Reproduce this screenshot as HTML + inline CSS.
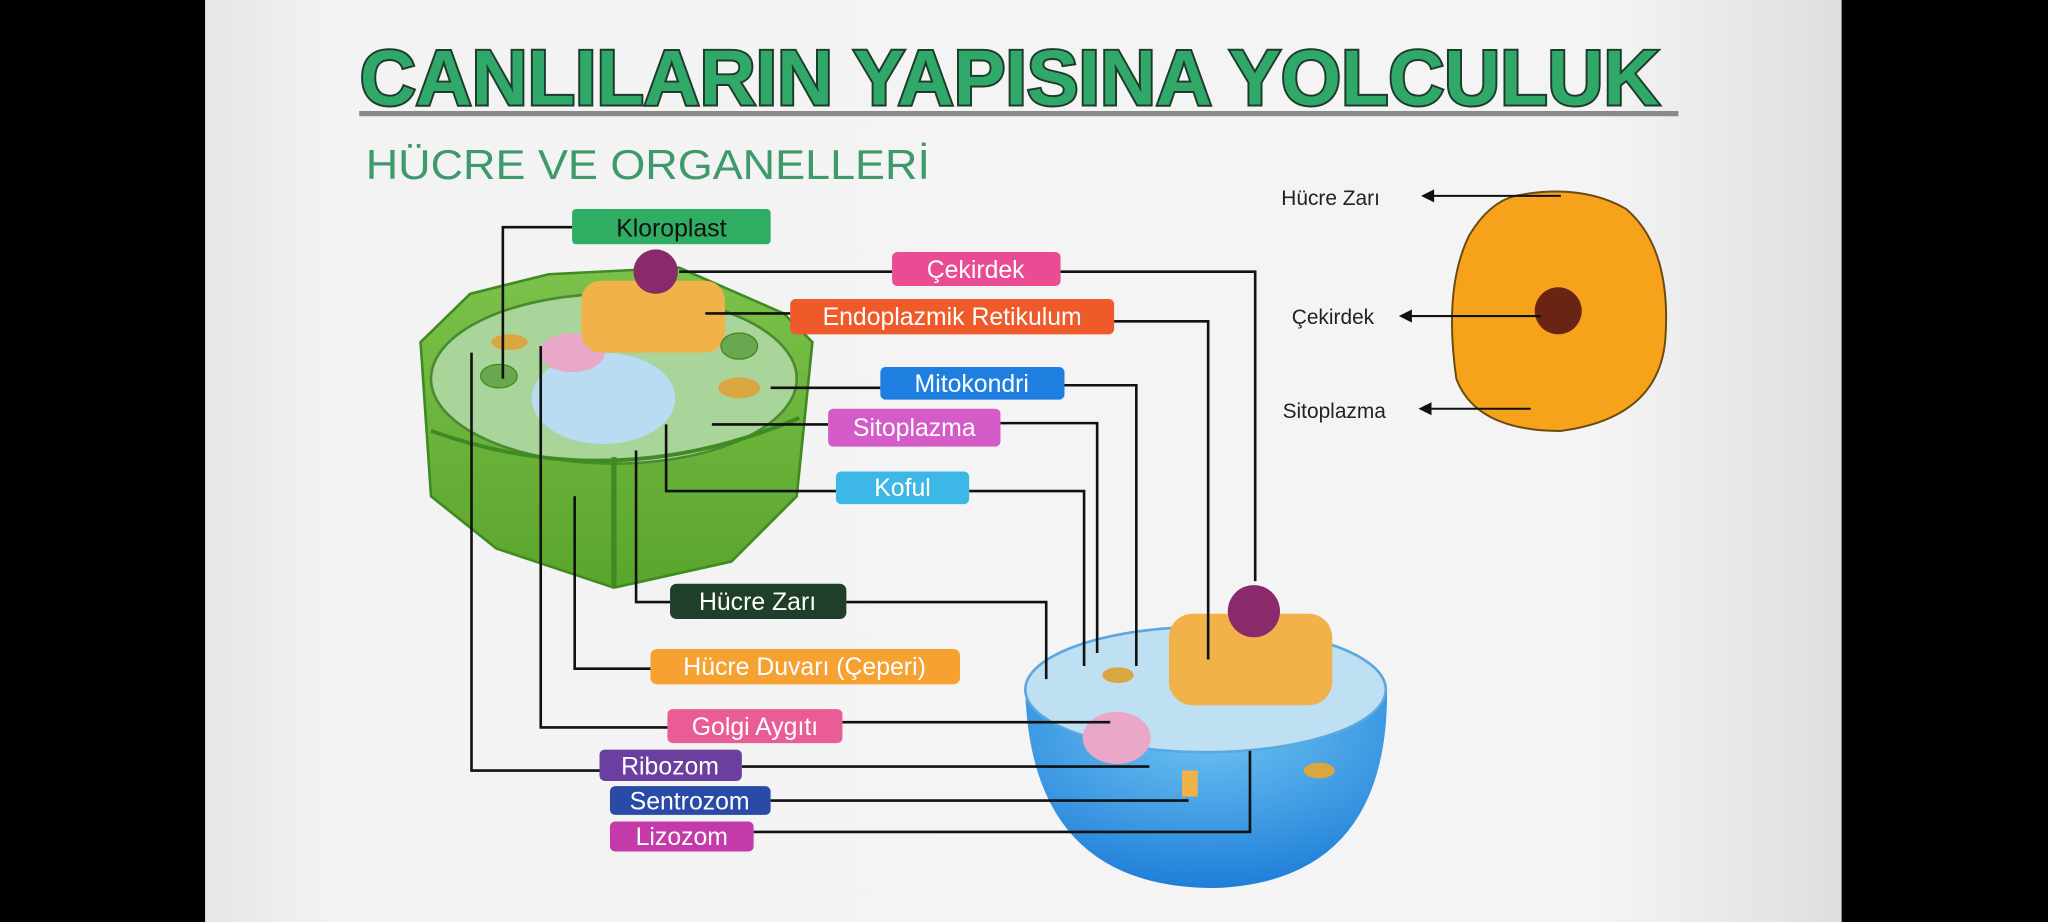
<!DOCTYPE html>
<html><head><meta charset="utf-8"><style>
html,body{margin:0;padding:0;width:2048px;height:922px;overflow:hidden;background:#000}
svg{display:block}
text{font-family:"Liberation Sans","DejaVu Sans",sans-serif}
</style></head><body>
<svg width="2048" height="922" viewBox="0 0 1568 706" preserveAspectRatio="none" xmlns="http://www.w3.org/2000/svg">
<defs>
<linearGradient id="bg" x1="0" x2="1" y1="0" y2="0">
<stop offset="0" stop-color="#e6e6e6"/><stop offset="0.08" stop-color="#f3f3f3"/><stop offset="0.85" stop-color="#f4f4f4"/><stop offset="0.93" stop-color="#e9e9e9"/><stop offset="1" stop-color="#dedede"/></linearGradient>
<linearGradient id="pg" x1="0" x2="0" y1="0" y2="1"><stop offset="0" stop-color="#7cc24a"/><stop offset="1" stop-color="#5aa52c"/></linearGradient>
<radialGradient id="bl" cx="0.5" cy="0.2" r="0.8"><stop offset="0" stop-color="#6ec3f2"/><stop offset="1" stop-color="#1f7fd8"/></radialGradient>
</defs>
<rect x="0" y="0" width="1568" height="706" fill="#000"/>
<rect x="157" y="0" width="1253" height="706" fill="url(#bg)"/>
<!-- title -->
<text x="773" y="80" text-anchor="middle" font-size="60" font-weight="900" fill="#2fa86a" stroke="#1f3a28" stroke-width="3" paint-order="stroke" textLength="995" lengthAdjust="spacingAndGlyphs">CANLILARIN YAPISINA YOLCULUK</text>
<rect x="275" y="85" width="1010" height="4" fill="#8a8a8a"/>
<text x="280" y="137" font-size="32" fill="#3e9a6a" textLength="432" lengthAdjust="spacingAndGlyphs">HÜCRE VE ORGANELLERİ</text>

<!-- plant cell -->
<path d="M322,262 L360,225 L420,210 L520,205 L600,240 L622,262 L610,380 L560,430 L470,450 L380,420 L330,380 Z" fill="url(#pg)" stroke="#3f8a22" stroke-width="2"/>
<ellipse cx="470" cy="290" rx="140" ry="65" fill="#a9d59a" stroke="#4a8a30" stroke-width="2"/>
<path d="M330,330 Q470,380 612,320" fill="none" stroke="#3f8a22" stroke-width="3"/>
<path d="M470,350 L470,450" stroke="#3f8a22" stroke-width="4"/>
<ellipse cx="462" cy="305" rx="55" ry="35" fill="#b9dcf3"/>
<ellipse cx="438" cy="270" rx="25" ry="15" fill="#e9a8c8"/>
<rect x="445" y="215" width="110" height="55" rx="15" fill="#f2b24a"/>
<circle cx="502" cy="208" r="17" fill="#8a2a6a"/>
<ellipse cx="566" cy="297" rx="16" ry="8" fill="#d9a640"/>
<ellipse cx="566" cy="265" rx="14" ry="10" fill="#6aa84f" stroke="#3f8a22"/>
<ellipse cx="382" cy="288" rx="14" ry="9" fill="#6aa84f" stroke="#3f8a22"/>
<ellipse cx="390" cy="262" rx="14" ry="6" fill="#d9a640"/>

<!-- animal cell -->
<path d="M785,530 Q790,680 930,680 Q1062,675 1062,530 Z" fill="url(#bl)"/>
<ellipse cx="923" cy="528" rx="138" ry="48" fill="#bfe0f2" stroke="#5aa8e0" stroke-width="2"/>
<ellipse cx="855" cy="565" rx="26" ry="20" fill="#e9a8c8"/>
<rect x="895" y="470" width="125" height="70" rx="18" fill="#f2b24a"/>
<circle cx="960" cy="468" r="20" fill="#8a2a6a"/>
<ellipse cx="856" cy="517" rx="12" ry="6" fill="#d9a640"/>
<ellipse cx="1010" cy="590" rx="12" ry="6" fill="#d9a640"/>
<rect x="905" y="590" width="12" height="20" fill="#f2b24a"/>

<!-- connector lines -->
<g stroke="#111" stroke-width="2" fill="none">
<path d="M438,174 H385 V290"/>
<path d="M520,208 H683 M812,208 H961 V445"/>
<path d="M540,240 H605 M853,246 H925 V505"/>
<path d="M590,297 H674 M815,295 H870 V510"/>
<path d="M545,325 H634 M766,324 H840 V500"/>
<path d="M510,325 V376 H640 M742,376 H830 V510"/>
<path d="M487,345 V461 H513 M648,461 H801 V520"/>
<path d="M440,380 V512 H498"/>
<path d="M414,265 V557 H511 M645,553 H850"/>
<path d="M361,270 V590 H459 M568,587 H880"/>
<path d="M590,613 H910"/>
<path d="M577,637 H957 V575"/>
</g>

<!-- labels -->
<g font-size="19" fill="#fff" text-anchor="middle">
<rect x="438" y="160" width="152" height="27" rx="3" fill="#2fae63"/><text x="514" y="181" fill="#111">Kloroplast</text>
<rect x="683" y="193" width="129" height="26" rx="4" fill="#ea4c94"/><text x="747" y="213">Çekirdek</text>
<rect x="605" y="229" width="248" height="27" rx="4" fill="#ef5a2a"/><text x="729" y="249">Endoplazmik Retikulum</text>
<rect x="674" y="281" width="141" height="25" rx="4" fill="#1e7fe0"/><text x="744" y="300">Mitokondri</text>
<rect x="634" y="313" width="132" height="29" rx="4" fill="#d45bc8"/><text x="700" y="334">Sitoplazma</text>
<rect x="640" y="361" width="102" height="25" rx="4" fill="#3db8e6"/><text x="691" y="380">Koful</text>
<rect x="513" y="447" width="135" height="27" rx="5" fill="#1f3f2a"/><text x="580" y="467">Hücre Zarı</text>
<rect x="498" y="497" width="237" height="27" rx="5" fill="#f6a233"/><text x="616" y="517">Hücre Duvarı (Çeperi)</text>
<rect x="511" y="543" width="134" height="26" rx="4" fill="#ea5c95"/><text x="578" y="563">Golgi Aygıtı</text>
<rect x="459" y="574" width="109" height="24" rx="4" fill="#6a3fa0"/><text x="513" y="593">Ribozom</text>
<rect x="467" y="602" width="123" height="22" rx="4" fill="#2a4aa8"/><text x="528" y="620">Sentrozom</text>
<rect x="467" y="629" width="110" height="23" rx="4" fill="#c43aa8"/><text x="522" y="647">Lizozom</text>
</g>

<!-- simple cell -->
<path d="M1160,150 Q1210,140 1245,160 Q1280,190 1275,260 Q1270,320 1195,330 Q1130,330 1115,290 Q1105,220 1125,180 Q1140,155 1160,150 Z" fill="#f7a21b" stroke="#6a4a10" stroke-width="1.5"/>
<circle cx="1193" cy="238" r="18" fill="#6a2413"/>
<g font-size="16" fill="#222">
<text x="981" y="157">Hücre Zarı</text>
<text x="989" y="248">Çekirdek</text>
<text x="982" y="320">Sitoplazma</text>
</g>
<g stroke="#111" stroke-width="1.6">
<line x1="1095" y1="150" x2="1195" y2="150"/>
<line x1="1078" y1="242" x2="1180" y2="242"/>
<line x1="1093" y1="313" x2="1172" y2="313"/>
</g>
<g fill="#111">
<polygon points="1088,150 1098,145 1098,155"/>
<polygon points="1071,242 1081,237 1081,247"/>
<polygon points="1086,313 1096,308 1096,318"/>
</g>
</svg>
</body></html>
